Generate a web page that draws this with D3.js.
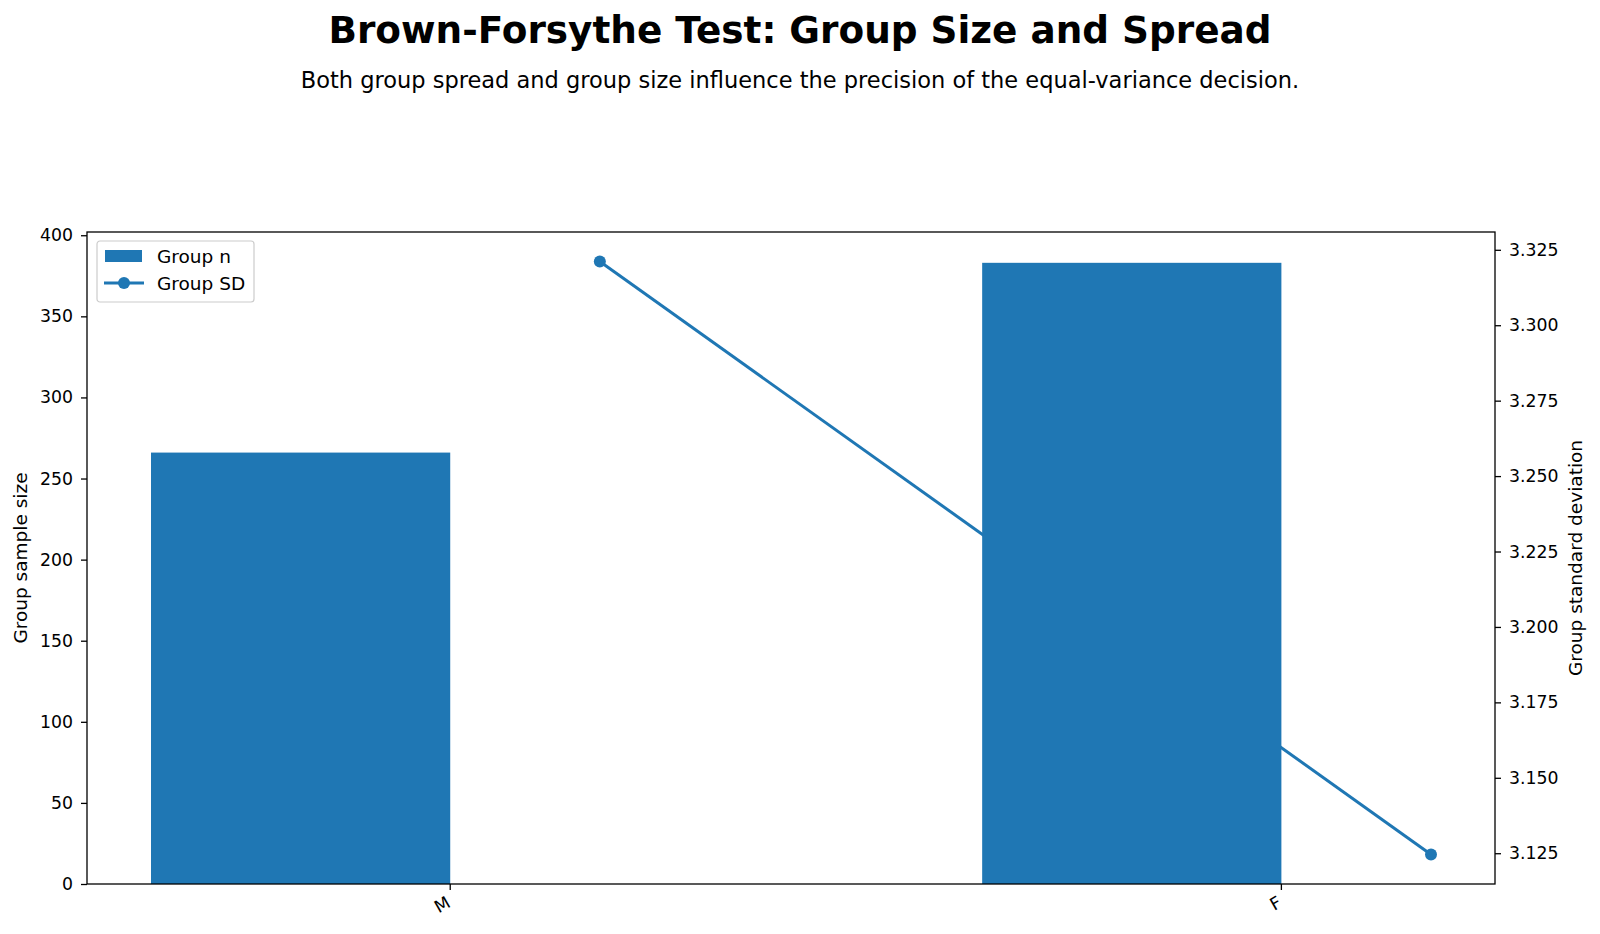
<!DOCTYPE html>
<html>
<head>
<meta charset="utf-8">
<script src="https://cdn.jsdelivr.net/npm/d3@7"></script>
<style>
  body { margin: 0; background: #fff; }
  svg { font-family: "DejaVu Sans", sans-serif; }
</style>
</head>
<body>
<svg id="chart" width="1600" height="934"></svg>
<script>
// chart data
const groups = ["M", "F"];
const groupN = [266, 383];
const groupSD = [3.3211, 3.1246];
const nTicks = [0, 50, 100, 150, 200, 250, 300, 350, 400];
const sdTicks = [3.125, 3.150, 3.175, 3.200, 3.225, 3.250, 3.275, 3.300, 3.325];

const W = 1600, H = 934;
const m = {left: 87, right: 1495, top: 232, bottom: 884};
const blue = "#1f77b4";
const tickFont = "17.3px", labelFont = "18.5px";
const svg = d3.select("#chart");

// x in category units, bars sit left of the tick, the SD points right of it
const x = d3.scaleLinear().domain([-0.437, 1.257]).range([m.left, m.right]);
const yN = d3.scaleLinear().domain([0, 402]).range([m.bottom, m.top]);
const ySD = d3.scaleLinear().domain([3.1148, 3.3309]).range([m.bottom, m.top]);
const barW = 0.36, off = 0.18;

svg.append("text")
    .attr("x", W / 2).attr("y", 43)
    .attr("text-anchor", "middle")
    .style("font-size", "37.4px").style("font-weight", "bold")
    .text("Brown-Forsythe Test: Group Size and Spread");

svg.append("text")
    .attr("x", W / 2).attr("y", 88)
    .attr("text-anchor", "middle")
    .style("font-size", "22.5px")
    .text("Both group spread and group size influence the precision of the equal-variance decision.");

const plot = svg.append("g");

// SD line (sits under the bars in the reference)
const line = d3.line()
    .x((d, i) => x(i + off))
    .y(d => ySD(d));

plot.append("path")
    .datum(groupSD)
    .attr("d", line)
    .attr("fill", "none")
    .attr("stroke", blue)
    .attr("stroke-width", 3);

plot.selectAll("circle.sd")
    .data(groupSD)
    .join("circle")
    .attr("class", "sd")
    .attr("cx", (d, i) => x(i + off))
    .attr("cy", d => ySD(d))
    .attr("r", 6)
    .attr("fill", blue);

plot.selectAll("rect.bar")
    .data(groupN)
    .join("rect")
    .attr("class", "bar")
    .attr("x", (d, i) => x(i - barW))
    .attr("width", (d, i) => x(i) - x(i - barW))
    .attr("y", d => yN(d))
    .attr("height", d => yN(0) - yN(d))
    .attr("fill", blue);

// frame
svg.append("rect")
    .attr("x", m.left).attr("y", m.top)
    .attr("width", m.right - m.left).attr("height", m.bottom - m.top)
    .attr("fill", "none").attr("stroke", "#000").attr("stroke-width", 1.3);

// left axis
const leftAxis = d3.axisLeft(yN).tickValues(nTicks).tickSize(6).tickPadding(8);
svg.append("g")
    .attr("transform", `translate(${m.left},0)`)
    .call(leftAxis)
    .call(g => g.select(".domain").remove())
    .call(g => g.selectAll("line").attr("stroke-width", 1.3))
    .call(g => g.selectAll("text").style("font-size", tickFont).attr("fill", "#000").style("font-family", "DejaVu Sans"));

// right axis
const rightAxis = d3.axisRight(ySD).tickValues(sdTicks).tickFormat(d3.format(".3f")).tickSize(6).tickPadding(8);
svg.append("g")
    .attr("transform", `translate(${m.right},0)`)
    .call(rightAxis)
    .call(g => g.select(".domain").remove())
    .call(g => g.selectAll("line").attr("stroke-width", 1.3))
    .call(g => g.selectAll("text").style("font-size", tickFont).attr("fill", "#000").style("font-family", "DejaVu Sans"));

// bottom ticks
const xt = svg.append("g");
xt.selectAll("line")
    .data(groups)
    .join("line")
    .attr("x1", (d, i) => x(i)).attr("x2", (d, i) => x(i))
    .attr("y1", m.bottom).attr("y2", m.bottom + 6)
    .attr("stroke", "#000").attr("stroke-width", 1.3);
xt.selectAll("text")
    .data(groups)
    .join("text")
    .attr("transform", (d, i) => `translate(${x(i) - 5},${m.bottom + 11}) rotate(-30)`)
    .attr("text-anchor", "end")
    .attr("dominant-baseline", "hanging")
    .style("font-size", tickFont)
    .text(d => d);

// axis titles
svg.append("text")
    .attr("transform", `translate(27,${(m.top + m.bottom) / 2}) rotate(-90)`)
    .attr("text-anchor", "middle")
    .style("font-size", labelFont)
    .text("Group sample size");

svg.append("text")
    .attr("transform", `translate(1582,${(m.top + m.bottom) / 2}) rotate(-90)`)
    .attr("text-anchor", "middle")
    .style("font-size", labelFont)
    .text("Group standard deviation");

// legend
const lg = svg.append("g").attr("transform", "translate(97,241)");
lg.append("rect")
    .attr("width", 157).attr("height", 61).attr("rx", 3)
    .attr("fill", "#fff").attr("fill-opacity", 0.8)
    .attr("stroke", "#cccccc").attr("stroke-width", 1.2);
lg.append("rect")
    .attr("x", 8).attr("y", 9).attr("width", 37).attr("height", 12)
    .attr("fill", blue);
lg.append("text")
    .attr("x", 60).attr("y", 22)
    .style("font-size", labelFont)
    .text("Group n");
lg.append("line")
    .attr("x1", 7).attr("x2", 47).attr("y1", 42).attr("y2", 42)
    .attr("stroke", blue).attr("stroke-width", 3);
lg.append("circle")
    .attr("cx", 27).attr("cy", 42).attr("r", 6)
    .attr("fill", blue);
lg.append("text")
    .attr("x", 60).attr("y", 49)
    .style("font-size", labelFont)
    .text("Group SD");
</script>
</body>
</html>
